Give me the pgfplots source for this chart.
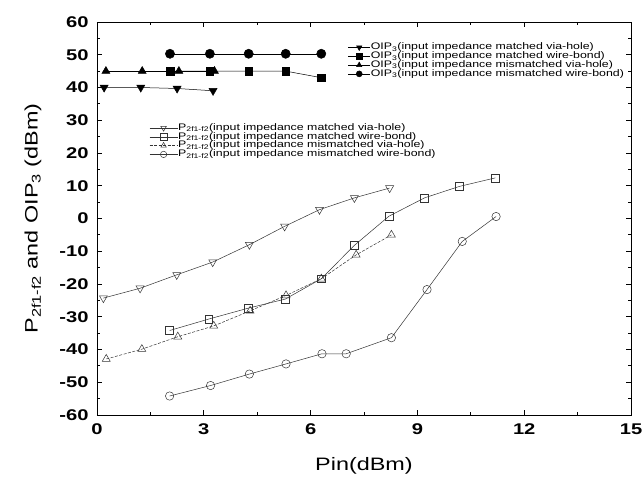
\documentclass[border=0pt]{standalone}
\usepackage{fontspec}
\setmainfont{Liberation Sans}[FakeStretch=1.3]
\usepackage{pgfplots}
\pgfplotsset{compat=1.18}

\pgfplotsset{
  base/.style={
    scale only axis, width=534pt, height=393pt,
    xmin=0, xmax=15, ymin=-60, ymax=60,
  },
  leg/.style={
    legend cell align=left,
    legend style={draw=none, fill=none, font=\fontsize{9.5}{9.5}\selectfont,
      nodes={inner sep=0.4pt, text height=6.2pt, text depth=1.8pt},
      /tikz/every even column/.append style={column sep=1pt}},
  },
}

\begin{document}
\begin{tikzpicture}
% OIP3 series + frame
\begin{axis}[base, leg, name=main,
    xtick={0,3,...,15}, ytick={-60,-50,...,60},
    minor x tick num=1, minor y tick num=1,
    tick align=inside,
    major tick length=5pt, minor tick length=3pt,
    axis line style={line width=0.9pt},
    every tick/.style={black, line width=0.8pt},
    /pgf/number format/assume math mode=true,
    ticklabel style={font=\bfseries\fontsize{15.5}{15.5}\selectfont},
    yticklabel style={xshift=-5pt},
    xticklabel style={yshift=-5pt},
    xlabel={Pin(dBm)},
    ylabel={P\textsubscript{2f1-f2} and OIP\textsubscript{3} (dBm)},
    label style={font=\fontsize{18}{18}\selectfont},
    xlabel style={yshift=-16pt},
    ylabel style={yshift=11pt},
    legend style={at={(0.464,0.952)}, anchor=north west},
    legend image code/.code={\draw[mark repeat=2,mark phase=2,#1] plot coordinates {(0pt,0pt)(11pt,0pt)(22pt,0pt)};},
    legend image post style={mark size=3pt},
]
\addplot[black, line width=0.5pt, mark=triangle*, mark size=4.6pt, mark options={rotate=180}]
  coordinates {(0.2,40)(1.23,40)(2.25,39.7)(3.26,39.0)};
\addplot[black, line width=0.5pt, mark=square*, mark size=3.8pt]
  coordinates {(2.05,45)(3.17,45)(4.26,45)(5.3,45)(6.3,43)};
\addplot[black, line width=0.5pt, mark=triangle*, mark size=4.6pt]
  coordinates {(0.25,45)(1.27,45)(2.3,45)(3.3,45)};
\addplot[black, line width=0.5pt, mark=*, mark size=4.6pt]
  coordinates {(2.05,50.3)(3.17,50.3)(4.26,50.3)(5.3,50.3)(6.3,50.3)};
\legend{OIP\textsubscript{3}(input impedance matched via-hole),
        OIP\textsubscript{3}(input impedance matched wire-bond),
        OIP\textsubscript{3}(input impedance mismatched via-hole),
        OIP\textsubscript{3}(input impedance mismatched wire-bond)}
\end{axis}

% P 2f1-f2 series
\begin{axis}[base, leg, hide axis,
    legend style={at={(0.092,0.747)}, anchor=north west},
    legend image code/.code={\draw[mark repeat=2,mark phase=2,#1] plot coordinates {(0pt,0pt)(14pt,0pt)(28pt,0pt)};},
    legend image post style={mark size=3.2pt},
]
\addplot[black!80, line width=0.5pt, mark=triangle, mark size=4.6pt, mark options={solid, rotate=180}]
  coordinates {(0.18,-24.3)(1.21,-21.3)(2.24,-17.2)(3.25,-13.3)(4.28,-8.0)(5.27,-2.4)(6.25,2.7)(7.23,6.3)(8.22,9.3)};
\addplot[black!80, line width=0.5pt, mark=square, mark size=3.9pt, mark options={solid}]
  coordinates {(2.04,-34.2)(3.14,-30.7)(4.24,-27.4)(5.29,-24.6)(6.3,-18.4)(7.23,-8.2)(8.2,0.7)(9.2,6.3)(10.18,9.8)(11.19,12.4)};
\addplot[black!80, line width=0.5pt, dash pattern=on 3pt off 1.5pt, mark=triangle, mark size=4.6pt, mark options={solid}]
  coordinates {(0.26,-42.9)(1.26,-39.9)(2.27,-36.1)(3.28,-32.8)(4.3,-28.2)(5.31,-23.5)(6.3,-18.4)(7.28,-11.1)(8.27,-5.0)};
\addplot[black!80, line width=0.5pt, mark=o, mark size=4.2pt, mark options={solid}]
  coordinates {(2.04,-54.2)(3.19,-51.0)(4.28,-47.5)(5.31,-44.4)(6.32,-41.3)(7.0,-41.3)(8.27,-36.4)(9.27,-21.7)(10.26,-7.0)(11.21,0.6)};
\legend{P\textsubscript{2f1-f2}(input impedance matched via-hole),
        P\textsubscript{2f1-f2}(input impedance matched wire-bond),
        P\textsubscript{2f1-f2}(input impedance mismatched via-hole),
        P\textsubscript{2f1-f2}(input impedance mismatched wire-bond)}
\end{axis}

\pgfresetboundingbox
\path ([xshift=-97pt,yshift=-65pt]main.south west) rectangle ([xshift=13pt,yshift=22pt]main.north east);
\end{tikzpicture}
\end{document}
